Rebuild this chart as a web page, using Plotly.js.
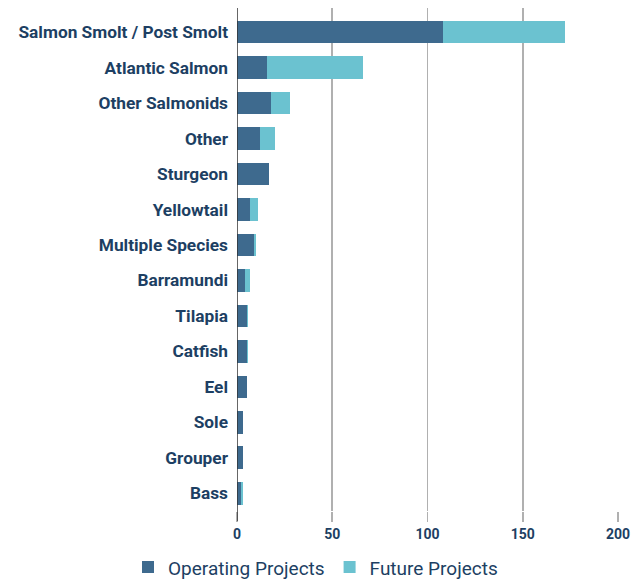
<!DOCTYPE html>
<html>
<head>
<meta charset="utf-8">
<script src="https://cdn.plot.ly/plotly-3.0.1.min.js"></script>
<style>html,body{margin:0;padding:0;background:#fff;}#chart{width:631px;height:580px;}</style>
</head>
<body>
<div id="chart"></div>
<script>
var categories = ["Salmon Smolt / Post Smolt","Atlantic Salmon","Other Salmonids","Other","Sturgeon","Yellowtail","Multiple Species","Barramundi","Tilapia","Catfish","Eel","Sole","Grouper","Bass"];
var operating = [108,16,18,12,17,7,9,4,5,5,5,3,3,2];
var future = [64,50,10,8,0,4,1,3,1,1,0,0,0,1];
var xTicks = [0,50,100,150,200];

var navy = "#1d3f63";
var traces = [
  {type:"bar", orientation:"h", name:"Operating Projects", y:categories, x:operating,
   marker:{color:"#3e6a8e"}},
  {type:"bar", orientation:"h", name:"Future Projects", y:categories, x:future,
   marker:{color:"#6bc2d0"}}
];
var layout = {
  width:631, height:580,
  barmode:"stack", bargap:0.36,
  margin:{l:237, r:13, t:8, b:69, autoexpand:false},
  paper_bgcolor:"#fff", plot_bgcolor:"#fff",
  font:{family:"Roboto, sans-serif", color:navy},
  xaxis:{range:[0,200], tickvals:xTicks, showgrid:true, gridcolor:"#b0b0b0", gridwidth:1.6,
    zeroline:false, ticks:"outside", ticklen:10, tickcolor:"#b0b0b0", tickwidth:1.6,
    tickfont:{size:14, color:navy, weight:"bold"}, automargin:false},
  yaxis:{type:"category", range:[13.5,-0.68], showgrid:false, zeroline:false, ticks:"",
    ticklabelstandoff:8, tickfont:{size:17.3, color:navy, weight:"bold"}, automargin:false},
  shapes:[{type:"line", xref:"x", yref:"paper", x0:0, x1:0, y0:-0.02, y1:1, layer:"above",
    line:{color:"#333", width:1.5}}],
  showlegend:true,
  legend:{orientation:"h", xref:"container", yref:"container", x:0.5, xanchor:"center", y:0.022, yanchor:"middle",
    font:{size:19, color:navy}, traceorder:"normal"}
};
Plotly.newPlot("chart", traces, layout, {displayModeBar:false, staticPlot:true});
</script>
</body>
</html>
